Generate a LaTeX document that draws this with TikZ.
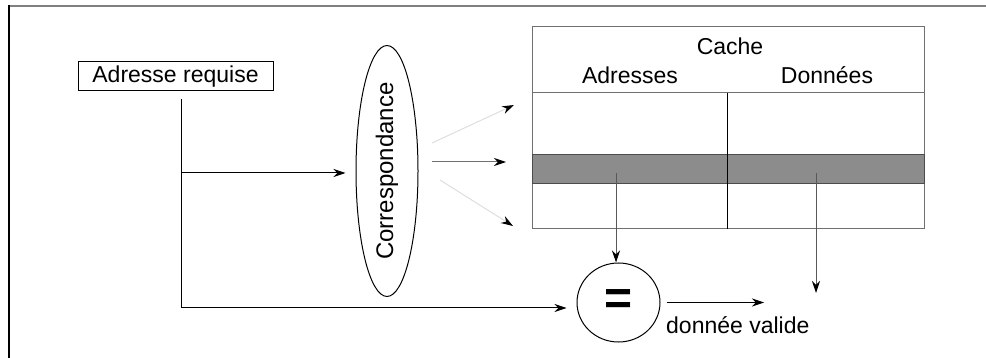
\documentclass[tikz,border=0pt]{standalone}
\usepackage{fontspec}
\setmainfont{Liberation Sans}
\usepackage{tikz}
\usetikzlibrary{arrows.meta,positioning,shapes.geometric}
\usepackage{xcolor}
\definecolor{cachegray}{RGB}{140,140,140}
\definecolor{rulegray}{RGB}{112,112,112}
\definecolor{faintgray}{RGB}{222,222,222}
\definecolor{framegray}{RGB}{128,128,128}
\tikzset{
    lbl/.style={
        font=\fontsize{23}{27}\selectfont,inner sep=0pt
    },
    box/.style={
        draw=#1,line width=1pt,inner sep=0pt
    },
    box/.default=black,
    row/.style={
        box=black!70,fill=cachegray,minimum height=29pt
    },
    arrow/.style={
        -{Stealth[length=12pt,width=8pt,color=black]},line width=1pt,draw=#1
    },
    arrow/.default=black
}

\begin{document}
\begin{tikzpicture}[x=1pt,y=-1pt]
\useasboundingbox (0,0) rectangle (986,358);

% cadre
\draw[framegray,line width=2pt] (9,6) -- (986,6);
\draw[line width=1.5pt] (9,5) -- (9,358);

\node[box,lbl,minimum width=195pt,minimum height=29pt]
(req) at (175.5,76.5) {Adresse requise};

\node[box,ellipse,minimum width=62pt,minimum height=222pt,inner sep=0pt]
(corr) at (387,171)
{\fontsize{24}{28}\selectfont\rotatebox{90}{Correspondance}};

% table du cache
\node[box=rulegray,minimum width=392pt,minimum height=202pt]
(cache) at (728,128) {};
\draw[rulegray,line width=1pt] (532,93) -- (924,93);
\node[row,minimum width=195pt] (adrcell) at (629.5,169.5) {};
\node[row,minimum width=197pt] (datcell) at (825.5,169.5) {};
\draw[line width=1pt] (727,93) -- (727,229);
\node[lbl,anchor=base] (cachetitle) at (730,55) {Cache};
\node[lbl,anchor=base] (adrtitle) at (630,84) {Adresses};
\node[lbl,anchor=base] (dattitle) at (827,84) {Données};

\node[box,ellipse,minimum width=83pt,minimum height=79pt]
(eq) at (618.5,302.5)
{\fontsize{48}{50}\selectfont\bfseries =};
\node[lbl,anchor=base west] (valid) at (666,334) {donnée valide};

\coordinate (reqtap) at (181,99);
\coordinate (reqmid) at (181,173);
\coordinate (reqbend) at (181,308);
\coordinate (fanupstart) at (432,143);
\coordinate (fanup) at (514,105);
\coordinate (fanmidstart) at (432,162);
\coordinate (fanmid) at (506,162);
\coordinate (fanlowstart) at (440,180);
\coordinate (fanlow) at (513,226);
\coordinate (adrtap) at (616,173);
\coordinate (dattap) at (816,173);
\coordinate (datend) at (816,293);
\coordinate (validend) at (764,302.5);

% liaisons
\draw[line width=1pt] (reqtap) -- (reqbend);
\draw[arrow,shorten >=10pt] (reqmid) -- (reqmid -| corr.west);
\draw[arrow,shorten >=10pt] (reqbend) -- (reqbend -| eq.west);
\draw[arrow=faintgray] (fanupstart) -- (fanup);
\draw[arrow=rulegray] (fanmidstart) -- (fanmid);
\draw[arrow=faintgray] (fanlowstart) -- (fanlow);
\draw[arrow=black!65] (adrtap) -- (adrtap |- eq.north);
\draw[arrow=black!65] (dattap) -- (datend);
\draw[arrow,shorten <=6pt] (eq.east) -- (validend);

\end{tikzpicture}
\end{document}
